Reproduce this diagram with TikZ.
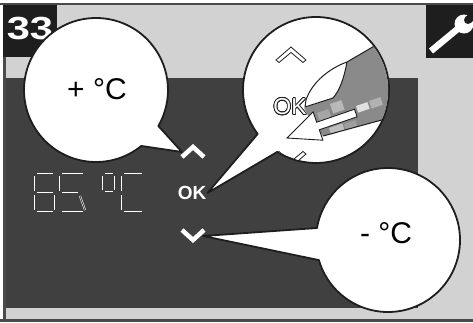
\documentclass[tikz,border=0pt]{standalone}
\usepackage{fontspec}
\setmainfont{Liberation Sans}
\setsansfont{Liberation Sans}
\usepackage{contour}
\contourlength{0.7pt}
\definecolor{BackGry} {HTML}{D2D2D2}
\definecolor{PanelGry}{HTML}{404040}
\definecolor{InkBlk}  {HTML}{1E1E1E}
\definecolor{HandGry} {HTML}{8A8A8A}
\definecolor{EdgeGry} {HTML}{4A4A4A}

\begin{document}
\begin{tikzpicture}[
  x=1pt, y=1pt, yscale=-1,
  bubble/.style = {draw=InkBlk, fill=white, line width=1.8pt, line join=round},
  btn/.style    = {text=white, inner sep=0pt,
                   font=\fontsize{19}{19}\selectfont\bfseries},
  callout/.style= {inner sep=0pt, font=\fontsize{30}{30}\selectfont},
  lcd/.style    = {draw=white, double=PanelGry, line width=0.55pt,
                   double distance=0.9pt},
  chev/.style   = {draw=white, line width=4.5pt, miter limit=10},
  outl/.style   = {draw=InkBlk, fill=white, line width=0.8pt},
]
\useasboundingbox (0,0) rectangle (473,322);

% ── Frame and display panel ──────────────────────────────────────────────────
\fill[BackGry] (4,4) rectangle (473,321);
\fill[PanelGry] (6,78) rectangle (418,308);
\draw[EdgeGry, line width=2pt]   (0,4) -- (473,4);
\draw[EdgeGry, line width=2.5pt] (4.5,4) -- (4.5,321);
\draw[EdgeGry, line width=2.5pt] (0,320.5) -- (473,320.5);

% ── Step badge and tool icon ─────────────────────────────────────────────────
\fill[InkBlk] (3,5) rectangle (57,57);
\node[text=white, inner sep=0pt, font=\fontsize{32}{32}\selectfont\bfseries]
  (stepno) at (30,29) {\scalebox{1.3}[1]{33}};

\fill[InkBlk] (426,5) rectangle (473,58);
\begin{scope}
  \clip (426,5) rectangle (473,58);
  \draw[white, line width=6.5pt] (431,51) -- (460,27);
  \fill[white]  (464,24) circle[radius=9.5];
  \fill[InkBlk] (468,20) circle[radius=4];
  \fill[InkBlk, rotate around={-40:(468,20)}] (468,16) rectangle (486,24);
\end{scope}

% ── Temperature readout ──────────────────────────────────────────────────────
\foreach \xa/\ya/\xb/\yb in {
    37/174/53/174, 35/176/35/191, 37/193/53/193, 35/195/35/210,
    55/195/55/210, 37/212/53/212,
    62/174/83/174, 60/176/60/191, 62/193/78/193, 80/196/85/210,
    62/212/83/212,
    105/174/113/174, 103/176/103/190, 115/176/115/190, 105/192/113/192,
    124/174/142/174, 122/176/122/191, 122/195/122/210, 124/212/142/212}{
  \draw[lcd] (\xa,\ya) -- (\xb,\yb);
}

% ── Buttons ──────────────────────────────────────────────────────────────────
\draw[chev] (182,157) -- (193,147) -- (204,157);
\node[btn] (okbtn) at (192,193) {OK};
\draw[chev] (182,230) -- (193,240) -- (204,230);
\coordinate (uptip) at (182,152);
\coordinate (dntip) at (203,236);

% ── Callouts ─────────────────────────────────────────────────────────────────
\coordinate (plusc) at (96,90);
\coordinate (magc)  at (316,90);
\coordinate (minc)  at (388,240);

\draw[bubble] (plusc) ++(51:72) arc[start angle=51, end angle=390, radius=72]
  -- (uptip) -- cycle;
\node[callout] (plus) at (97,89) {+ °C};

\draw[bubble] (minc) ++(189.6:72) arc[start angle=189.6, end angle=523.8, radius=72]
  -- (dntip) -- cycle;
\node[callout] (minus) at (386,233) {- °C};

\draw[bubble] (magc) ++(143:73) arc[start angle=143, end angle=482, radius=73]
  -- ([xshift=1pt]okbtn.east) -- cycle;

% magnified keypad with a finger pressing OK
\begin{scope}
  \clip (magc) circle[radius=72.1];
  \draw[outl] (276,60) -- (291,47) -- (306,60) -- (303,62.5) -- (291,52.5)
    -- (279,62.5) -- cycle;
  \draw[outl] (276,154) -- (291,167) -- (306,154) -- (303,151.5) -- (291,161.5)
    -- (279,151.5) -- cycle;
  \node[text=white, inner sep=0pt, font=\fontsize{23}{23}\selectfont]
    (okzoom) at (290,107) {\contour{InkBlk}{OK}};

  \fill[HandGry] (347,62) -- (400,31) -- (400,115) -- (323,136) -- (314,127)
    -- (304,108) -- (333,98) -- cycle;
  \foreach \px/\py/\w/\h/\s in {317/113/12/9/35, 330/104/12/10/28,
      356/106/12/7/12, 369/101/12/8/30, 329/128/14/7/25, 344/124/12/6/38}{
    \fill[black!\s, rotate around={-19:(\px,\py)}] (\px,\py) rectangle ++(\w,\h);
  }
  \draw[InkBlk, line width=1pt] (347,62) -- (400,31);
  \draw[InkBlk, line width=1pt] (323,136) -- (400,115);
  \draw[InkBlk, fill=white, line width=1pt, line join=round]
    (347,62) .. controls (330,68) and (312,82) .. (306,100) -- (305,107)
    -- (333,98) .. controls (340,90) and (344,78) .. (347,62) -- cycle;
  \draw[InkBlk, fill=white, line width=0.9pt]
    (287,138) -- (313.1,111.8) -- (316.7,122.2) -- (354.5,109.2)
    -- (357.1,116.8) -- (319.3,129.8) -- (322.9,140.2) -- cycle;
\end{scope}

\end{tikzpicture}
\end{document}
